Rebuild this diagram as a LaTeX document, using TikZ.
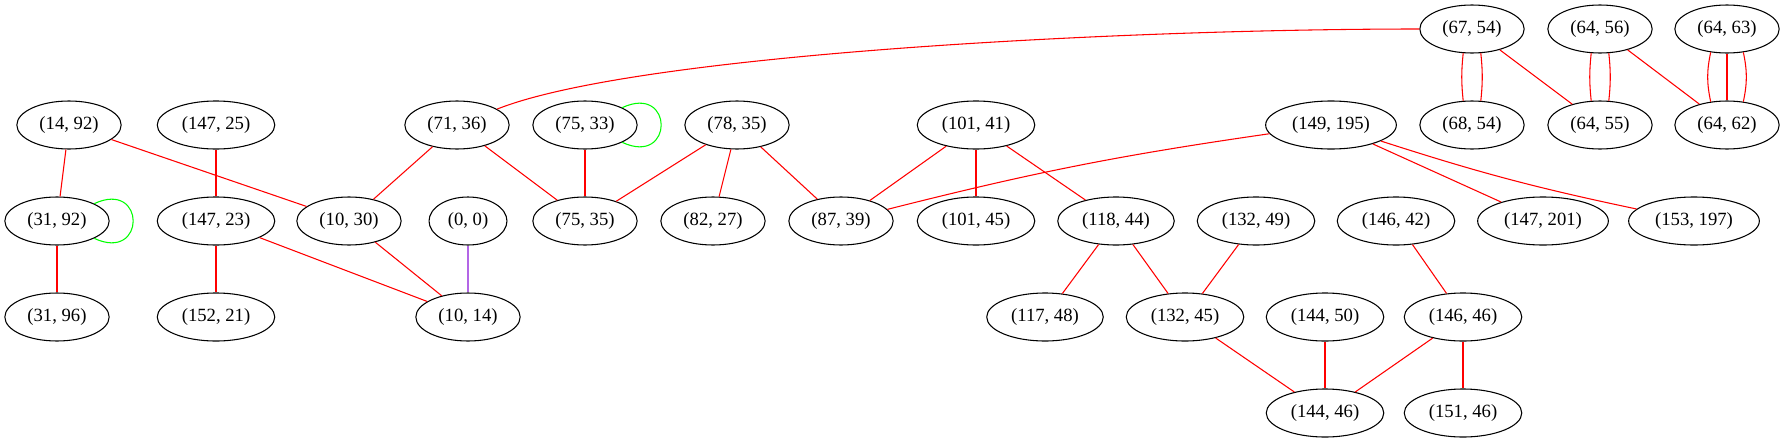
\documentclass[tikz,border=0pt]{standalone}
\usepackage{fontspec}
\setmainfont{Liberation Serif}
\usepackage{tikz}
\usetikzlibrary{shapes.geometric}
\definecolor{edgered}{HTML}{FF0000}
\definecolor{loopgreen}{HTML}{00FF00}
\definecolor{linkpurple}{HTML}{B366E6}

\begin{document}
\begin{tikzpicture}[x=0.75pt,y=-0.75pt,
  vertex/.style={draw,ellipse,line width=0.8pt,inner xsep=5.5pt,inner ysep=2pt,
                 minimum height=36pt,font=\fontsize{14pt}{16pt}\selectfont},
  link/.style={draw=edgered,line width=0.8pt},
  selfedge/.style={draw=loopgreen,line width=0.8pt,out=25,in=-25,min distance=43pt}
]
  \useasboundingbox (0,0) rectangle (1785,443);

  \node[vertex] (n67x54) at (1472,29) {(67, 54)};
  \node[vertex] (n64x56) at (1600,29) {(64, 56)};
  \node[vertex] (n64x63) at (1727,29) {(64, 63)};

  \node[vertex] (n14x92) at (69,125) {(14, 92)};
  \node[vertex] (n147x25) at (216,125) {(147, 25)};
  \node[vertex] (n71x36) at (457,125) {(71, 36)};
  \node[vertex] (n75x33) at (585,125) {(75, 33)};
  \node[vertex] (n78x35) at (737,125) {(78, 35)};
  \node[vertex] (n101x41) at (976,125) {(101, 41)};
  \node[vertex] (n149x195) at (1331,125) {(149, 195)};
  \node[vertex] (n68x54) at (1472,125) {(68, 54)};
  \node[vertex] (n64x55) at (1600,125) {(64, 55)};
  \node[vertex] (n64x62) at (1727,125) {(64, 62)};

  \node[vertex] (n31x92) at (57,221) {(31, 92)};
  \node[vertex] (n147x23) at (216,221) {(147, 23)};
  \node[vertex] (n10x30) at (349,221) {(10, 30)};
  \node[vertex] (n0x0) at (468,221) {(0, 0)};
  \node[vertex] (n75x35) at (585,221) {(75, 35)};
  \node[vertex] (n82x27) at (713,221) {(82, 27)};
  \node[vertex] (n87x39) at (841,221) {(87, 39)};
  \node[vertex] (n101x45) at (976,221) {(101, 45)};
  \node[vertex] (n118x44) at (1116,221) {(118, 44)};
  \node[vertex] (n132x49) at (1256,221) {(132, 49)};
  \node[vertex] (n146x42) at (1396,221) {(146, 42)};
  \node[vertex] (n147x201) at (1543,221) {(147, 201)};
  \node[vertex] (n153x197) at (1694,221) {(153, 197)};

  \node[vertex] (n31x96) at (57,317) {(31, 96)};
  \node[vertex] (n152x21) at (216,317) {(152, 21)};
  \node[vertex] (n10x14) at (468,317) {(10, 14)};
  \node[vertex] (n117x48) at (1045,317) {(117, 48)};
  \node[vertex] (n132x45) at (1185,317) {(132, 45)};
  \node[vertex] (n144x50) at (1325,317) {(144, 50)};
  \node[vertex] (n146x46) at (1463,317) {(146, 46)};

  \node[vertex] (n144x46) at (1325,413) {(144, 46)};
  \node[vertex] (n151x46) at (1463,413) {(151, 46)};

  \draw[link] (n67x54) .. controls +(-350,0) and +(179,-71) .. (n71x36);
  \draw[link] (n67x54.250) to[bend right=6] (n68x54.110);
  \draw[link] (n67x54.290) to[bend left=6] (n68x54.70);
  \draw[link] (n67x54) -- (n64x55);
  \draw[link] (n64x56.250) to[bend right=6] (n64x55.110);
  \draw[link] (n64x56.290) to[bend left=6] (n64x55.70);
  \draw[link] (n64x56) -- (n64x62);
  \draw[link] (n64x63.235) to[bend right=12] (n64x62.125);
  \draw[link] (n64x63) -- (n64x62);
  \draw[link] (n64x63.305) to[bend left=12] (n64x62.55);

  \draw[link] (n14x92) -- (n31x92);
  \draw[link] (n14x92) -- (n10x30);
  \draw[selfedge] (n31x92) to (n31x92);
  \draw[link] (n31x92) -- (n31x96);
  \draw[link] (n147x25) -- (n147x23);
  \draw[link] (n147x23) -- (n152x21);
  \draw[link] (n147x23) -- (n10x14);
  \draw[link] (n71x36) -- (n10x30);
  \draw[link] (n71x36) -- (n75x35);
  \draw[link] (n10x30) -- (n10x14);
  \draw[link,draw=linkpurple] (n0x0) -- (n10x14);
  \draw[selfedge] (n75x33) to (n75x33);
  \draw[link] (n75x33) -- (n75x35);
  \draw[link] (n78x35) -- (n75x35);
  \draw[link] (n78x35) -- (n82x27);
  \draw[link] (n78x35) -- (n87x39);
  \draw[link] (n101x41) -- (n87x39);
  \draw[link] (n101x41) -- (n101x45);
  \draw[link] (n101x41) -- (n118x44);
  \draw[link] (n149x195) to[bend right=3] (n87x39);
  \draw[link] (n149x195) -- (n147x201);
  \draw[link] (n149x195) to[bend right=3] (n153x197);
  \draw[link] (n118x44) -- (n117x48);
  \draw[link] (n118x44) -- (n132x45);
  \draw[link] (n132x49) -- (n132x45);
  \draw[link] (n146x42) -- (n146x46);
  \draw[link] (n132x45) -- (n144x46);
  \draw[link] (n144x50) -- (n144x46);
  \draw[link] (n146x46) -- (n144x46);
  \draw[link] (n146x46) -- (n151x46);
\end{tikzpicture}
\end{document}
